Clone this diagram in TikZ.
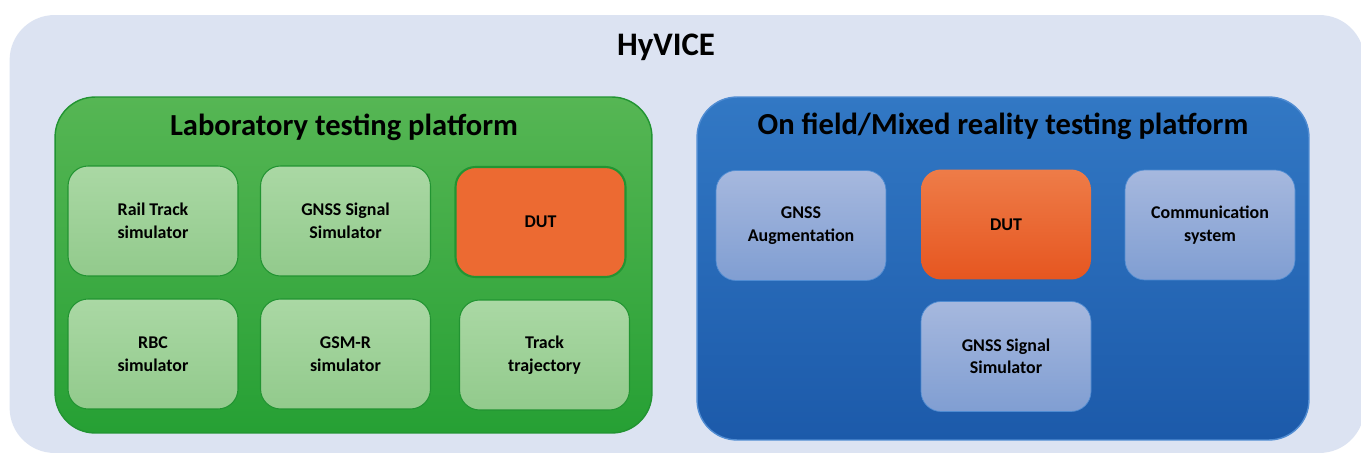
\documentclass[tikz,border=0pt]{standalone}
\usepackage{fontspec}
\setmainfont{Carlito}
\definecolor{hyBack}{RGB}{220,227,242}
\definecolor{labTop}{RGB}{86,182,84}
\definecolor{labBottom}{RGB}{38,160,52}
\definecolor{labLine}{RGB}{34,148,50}
\definecolor{labCellTop}{RGB}{170,216,164}
\definecolor{labCellBottom}{RGB}{146,202,140}
\definecolor{fieldTop}{RGB}{50,120,196}
\definecolor{fieldBottom}{RGB}{28,90,170}
\definecolor{fieldLine}{RGB}{80,140,210}
\definecolor{fieldCellTop}{RGB}{166,184,222}
\definecolor{fieldCellBottom}{RGB}{128,158,210}
\definecolor{dutTop}{RGB}{238,124,72}
\definecolor{dutBottom}{RGB}{230,86,32}
\definecolor{dutFlat}{RGB}{236,106,50}

\begin{document}
\begin{tikzpicture}
[x=0.02cm,y=-0.02cm,
  every node/.style={inner sep=2pt,align=center,text=black},%
  cellText/.style={font=\bfseries\fontsize{10.2}{12.8}\selectfont},
  titleText/.style={font=\bfseries\fontsize{17.4}{20}\selectfont},
  platformBox/.style={rounded corners=0.8cm,line width=0.8pt},
  labCell/.style={cellText,rounded corners=0.4cm,minimum width=3.4cm,
    minimum height=2.2cm,draw=labLine,line width=0.6pt,
    top color=labCellTop,bottom color=labCellBottom},
  fieldCell/.style={cellText,rounded corners=0.4cm,minimum width=3.4cm,
    minimum height=2.2cm,draw=fieldLine,line width=0.4pt,
    top color=fieldCellTop,bottom color=fieldCellBottom},
  dutCell/.style={cellText,rounded corners=0.4cm,minimum width=3.4cm,
    minimum height=2.2cm}]
\useasboundingbox (0,0) rectangle (1361,459);
\fill[white] (0,0) rectangle (1361,459);
\node[fill=hyBack,rounded corners=0.9cm,minimum width=27.1cm,
  minimum height=8.76cm] (hyvice) at (687,234) {};
\node[font=\bfseries\fontsize{18.7}{22}\selectfont] (hyviceTitle) at (666,47) {HyVICE};

% laboratory side
\node[platformBox,draw=labLine,top color=labTop,bottom color=labBottom,
  minimum width=11.94cm,minimum height=6.72cm] (lab) at (353.5,265) {};
\node[titleText] (labTitle) at (344,127) {Laboratory testing platform};
\foreach \cellName/\x/\y/\cellText in {
  railTrack/153/221/{Rail Track\\simulator},
  labGnss/345.5/221/{GNSS Signal\\Simulator},
  rbc/153/354/{RBC\\simulator},
  gsmr/345.5/354/{GSM-R\\simulator},
  trajectory/544.5/355/{Track\\trajectory}}
{
  \node[labCell] (\cellName) at (\x,\y) {\cellText};
}
\node[dutCell,fill=dutFlat,draw=labLine,line width=1.2pt] (labDut) at (540.5,222) {DUT};

% on field side
\node[platformBox,draw=fieldLine,top color=fieldTop,bottom color=fieldBottom,
  minimum width=12.24cm,minimum height=6.86cm] (field) at (1003,268.5) {};
\node[titleText] (fieldTitle) at (1003,126) {On field/Mixed reality testing platform};
\foreach \cellName/\x/\y/\cellText in {
  augmentation/801/225.5/{GNSS\\Augmentation},
  communication/1210/225/{Communication\\system},
  fieldGnss/1006/356.5/{GNSS Signal\\Simulator}}
{
  \node[fieldCell] (\cellName) at (\x,\y) {\cellText};
}
\node[dutCell,top color=dutTop,bottom color=dutBottom] (fieldDut) at (1006,224.5) {DUT};
\end{tikzpicture}
\end{document}
